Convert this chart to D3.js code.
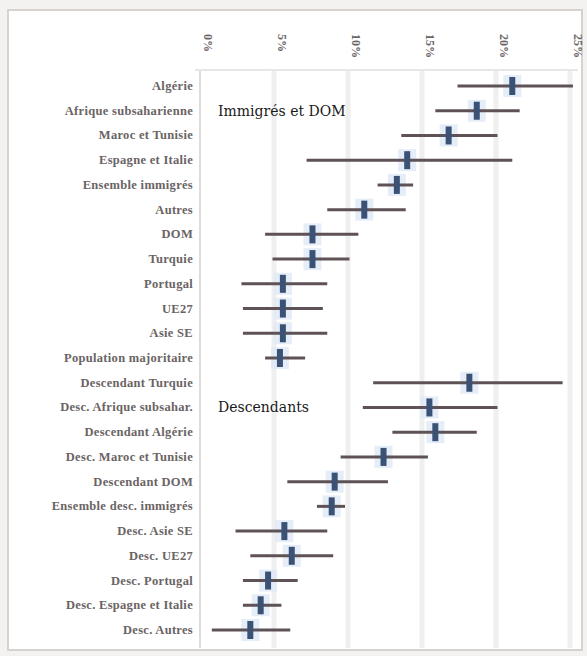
<!DOCTYPE html>
<html>
<head>
<meta charset="utf-8">
<script src="https://cdn.jsdelivr.net/npm/d3@7"></script>
<style>
  body { margin: 0; background: #fff; }
  svg { display: block; }
</style>
</head>
<body>
<svg id="chart" width="587" height="656"></svg>
<script>
// categories, top to bottom
const categories = [
  "Algérie", "Afrique subsaharienne", "Maroc et Tunisie", "Espagne et Italie",
  "Ensemble immigrés", "Autres", "DOM", "Turquie", "Portugal", "UE27", "Asie SE",
  "Population majoritaire",
  "Descendant Turquie", "Desc. Afrique subsahar.", "Descendant Algérie",
  "Desc. Maroc et Tunisie", "Descendant DOM", "Ensemble desc. immigrés",
  "Desc. Asie SE", "Desc. UE27", "Desc. Portugal", "Desc. Espagne et Italie",
  "Desc. Autres"
];
const estimate = [21.1, 18.7, 16.8, 14.0, 13.3, 11.1, 7.6, 7.6, 5.6, 5.6, 5.6, 5.4,
                  18.2, 15.5, 15.9, 12.4, 9.1, 8.9, 5.7, 6.2, 4.6, 4.1, 3.4];
const lower    = [17.4, 15.9, 13.6, 7.2, 12.0, 8.6, 4.4, 4.9, 2.8, 2.9, 2.9, 4.4,
                  11.7, 11.0, 13.0, 9.5, 5.9, 7.9, 2.4, 3.4, 2.9, 2.9, 0.8];
const upper    = [25.2, 21.6, 20.1, 21.1, 14.4, 13.9, 10.7, 10.1, 8.6, 8.3, 8.6, 7.1,
                  24.5, 20.1, 18.7, 15.4, 12.7, 9.8, 8.6, 9.0, 6.6, 5.5, 6.1];
const tickValues = [0, 5, 10, 15, 20, 25];
const groupLabels = [
  { label: "Immigrés et DOM", row: "Afrique subsaharienne" },
  { label: "Descendants", row: "Desc. Afrique subsahar." }
];

const serif = '"Liberation Serif", "DejaVu Serif", serif';
const svg = d3.select("#chart");
const data = categories.map((c, i) => ({ name: c, est: estimate[i], lo: lower[i], hi: upper[i] }));

const x = d3.scaleLinear().domain([0, 25]).range([200, 570]);
const y = d3.scalePoint().domain(categories).range([86, 630]);

// outer frame
svg.append("rect").attr("x", 0).attr("y", 0).attr("width", 587).attr("height", 656).attr("fill", "#f4f2f0");
svg.append("rect")
    .attr("x", 8).attr("y", 10).attr("width", 574).attr("height", 640)
    .attr("fill", "#fff").attr("stroke", "#d6d2ce").attr("stroke-width", 2);

// grid lines
svg.selectAll(".grid")
    .data(tickValues.slice(1))
    .enter()
    .append("line")
    .attr("x1", d => x(d)).attr("x2", d => x(d))
    .attr("y1", 70).attr("y2", 648)
    .attr("stroke", "#efefef").attr("stroke-width", 5);

// axis lines
svg.append("line").attr("x1", x(0)).attr("x2", x(0)).attr("y1", 70).attr("y2", 648)
    .attr("stroke", "#dcdcdc").attr("stroke-width", 2);
svg.append("line").attr("x1", 195).attr("x2", 578).attr("y1", 70).attr("y2", 70)
    .attr("stroke", "#e6e6e6").attr("stroke-width", 2);

// tick labels, rotated
svg.selectAll(".tick-label")
    .data(tickValues)
    .enter()
    .append("text")
    .attr("transform", d => `translate(${x(d) + 4},${34}) rotate(90)`)
    .attr("font-family", serif)
    .attr("font-size", 12)
    .attr("font-weight", "bold")
    .attr("fill", "#6a6464")
    .text(d => d + "%");

// category labels
svg.selectAll(".cat-label")
    .data(data)
    .enter()
    .append("text")
    .attr("x", 193)
    .attr("y", d => y(d.name) + 4)
    .attr("text-anchor", "end")
    .attr("font-family", serif)
    .attr("font-size", 12.5)
    .attr("font-weight", "bold")
    .attr("letter-spacing", 0.3)
    .attr("fill", "#6a6464")
    .text(d => d.name);

// light halo behind estimate
svg.selectAll(".halo")
    .data(data)
    .enter()
    .append("rect")
    .attr("x", d => x(d.est) - 9)
    .attr("y", d => y(d.name) - 11)
    .attr("width", 18).attr("height", 22)
    .attr("fill", "#dfe9f6").attr("opacity", 0.8);

// confidence interval lines
svg.selectAll(".ci")
    .data(data)
    .enter()
    .append("line")
    .attr("x1", d => x(d.lo)).attr("x2", d => x(d.hi))
    .attr("y1", d => y(d.name)).attr("y2", d => y(d.name))
    .attr("stroke", "#5e5256").attr("stroke-width", 3);

// estimate markers
svg.selectAll(".est")
    .data(data)
    .enter()
    .append("rect")
    .attr("x", d => x(d.est) - 3)
    .attr("y", d => y(d.name) - 9)
    .attr("width", 6).attr("height", 18)
    .attr("fill", "#3a5276");

// group annotations
svg.selectAll(".group")
    .data(groupLabels)
    .enter()
    .append("text")
    .attr("x", 218)
    .attr("y", d => y(d.row) + 5)
    .attr("font-family", '"DejaVu Serif", serif')
    .attr("font-size", 14)
    .attr("fill", "#1a1a1a")
    .text(d => d.label);
</script>
</body>
</html>
